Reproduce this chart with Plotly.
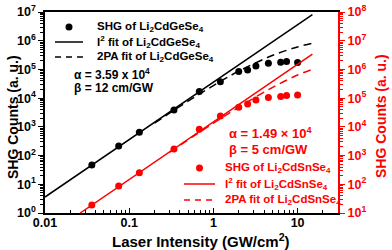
import plotly.graph_objects as go

# ---- data ----
intensity = [0.036, 0.075, 0.132, 0.34, 0.68, 1.21, 2.0, 2.55, 3.2, 4.5, 6.3, 7.4, 10.0]
shg_ge = [47, 215, 650, 3900, 17000, 37600, 84000, 96000, 132000, 164000, 178000, 187000, 173000]
shg_sn = [19, 87, 254, 1700, 8300, 24000, 48000, 63000, 87000, 105000, 113000, 123000, 129000]

fit_ge_x = [0.01, 15.0]
fit_ge_y = [3.6, 8.1e6]
pa_ge_x = [0.2, 0.5, 1.0, 2.0, 5.0, 10.0, 15.0]
pa_ge_y = [1350, 7800, 27500, 86800, 305000, 608000, 818000]

fit_sn_x = [0.0262, 15.0]
fit_sn_y = [10, 3.4e6]
pa_sn_x = [0.3, 1.0, 2.0, 5.0, 10.0, 15.0]
pa_sn_y = [1300, 13400, 48400, 233000, 637000, 1.0e6]

x_tickvals = [0.01, 0.1, 1, 10]
x_ticktext = ["0.01", "0.1", "1", "10"]
y1_exps = [0, 1, 2, 3, 4, 5, 6, 7]
y2_exps = [1, 2, 3, 4, 5, 6, 7, 8]

legend_ge = ["SHG of Li<sub>2</sub>CdGeSe<sub>4</sub>",
             "I<sup>2</sup> fit of Li<sub>2</sub>CdGeSe<sub>4</sub>",
             "2PA fit of Li<sub>2</sub>CdGeSe<sub>4</sub>"]
legend_sn = ["SHG of Li<sub>2</sub>CdSnSe<sub>4</sub>",
             "I<sup>2</sup> fit of Li<sub>2</sub>CdSnSe<sub>4</sub>",
             "2PA fit of Li<sub>2</sub>CdSnSe<sub>4</sub>"]

RED = "#ff0000"
FONT = "Liberation Sans"
NARROW = "Liberation Sans Narrow, Arial Narrow, Liberation Sans"
W, H = 392, 250
PL, PT, PR, PB = 45, 12, 338, 213   # plot area in page pixels
PW, PH = PR - PL, PB - PT
DASH = "8px,5px"


def px(xp):
    return (xp - PL) / PW


def py(yp):
    return (PB - yp) / PH


fig = go.Figure()
fig.add_trace(go.Scatter(x=intensity, y=shg_ge, mode="markers",
                         marker=dict(color="black", size=7), name=legend_ge[0]))
fig.add_trace(go.Scatter(x=fit_ge_x, y=fit_ge_y, mode="lines",
                         line=dict(color="black", width=1.5), name=legend_ge[1]))
fig.add_trace(go.Scatter(x=pa_ge_x, y=pa_ge_y, mode="lines", line_shape="spline",
                         line=dict(color="black", width=1.5, dash=DASH), name=legend_ge[2]))
fig.add_trace(go.Scatter(x=intensity, y=shg_sn, mode="markers", yaxis="y2",
                         marker=dict(color=RED, size=7), name=legend_sn[0]))
fig.add_trace(go.Scatter(x=fit_sn_x, y=fit_sn_y, mode="lines", yaxis="y2",
                         line=dict(color=RED, width=1.5), name=legend_sn[1]))
fig.add_trace(go.Scatter(x=pa_sn_x, y=pa_sn_y, mode="lines", yaxis="y2", line_shape="spline",
                         line=dict(color=RED, width=1.5, dash=DASH), name=legend_sn[2]))


def minor_vals(lo, hi):
    out = []
    for e in range(lo, hi):
        for k in range(2, 10):
            out.append(k * 10 ** e)
    return out


TICKF = dict(family=NARROW, size=12.5, weight="bold", color="black")

fig.update_layout(
    width=W, height=H,
    margin=dict(l=PL, r=W - PR, t=PT, b=H - PB),
    paper_bgcolor="white", plot_bgcolor="white",
    font=dict(family=FONT, size=11, color="black"),
    showlegend=False,
    xaxis=dict(type="log", range=[-2, 1.48], showgrid=False, zeroline=False, automargin=False,
               showline=True, linecolor="black", linewidth=1.5, mirror=True,
               ticks="inside", ticklen=5, tickwidth=1.2, tickcolor="black",
               tickvals=x_tickvals, ticktext=x_ticktext, ticklabelstandoff=-3,
               ticklabeloverflow="allow", tickfont=TICKF,
               minor=dict(tickvals=minor_vals(-2, 2), ticks="inside", ticklen=3,
                          tickcolor="black", showgrid=False)),
    yaxis=dict(type="log", range=[0, 7], showgrid=False, zeroline=False, automargin=False,
               showline=True, linecolor="black", linewidth=1.5,
               ticks="outside", ticklen=5, tickwidth=1.2, tickcolor="black",
               tickvals=[10 ** e for e in y1_exps],
               ticktext=["10<sup>%d</sup>" % e for e in y1_exps],
               ticklabeloverflow="allow", tickfont=TICKF,
               minor=dict(tickvals=minor_vals(0, 7), ticks="outside", ticklen=3,
                          tickcolor="black", showgrid=False)),
    yaxis2=dict(type="log", range=[1, 8], overlaying="y", side="right", automargin=False,
                showgrid=False, zeroline=False,
                showline=True, linecolor=RED, linewidth=2,
                ticks="outside", ticklen=5, tickwidth=1.2, tickcolor=RED,
                tickvals=[10 ** e for e in y2_exps],
                ticktext=["10<sup>%d</sup>" % e for e in y2_exps],
                ticklabeloverflow="allow",
                tickfont=dict(family=NARROW, size=12.5, weight="bold", color=RED),
                minor=dict(tickvals=minor_vals(1, 8), ticks="outside", ticklen=3,
                           tickcolor=RED, showgrid=False)),
)

# axis titles
fig.add_annotation(xref="paper", yref="paper", x=px(13), y=py(117), textangle=-90,
                   xanchor="center", yanchor="middle",
                   showarrow=False, text="SHG Counts (a. u.)",
                   font=dict(size=14, weight="bold", color="black"))
fig.add_annotation(xref="paper", yref="paper", x=px(381), y=py(116), textangle=-90,
                   xanchor="center", yanchor="middle",
                   showarrow=False, text="SHG Counts (a. u.)",
                   font=dict(size=14, weight="bold", color=RED))
fig.add_annotation(xref="paper", yref="paper", x=px(201), y=py(240),
                   xanchor="center", yanchor="middle",
                   showarrow=False, text="Laser Intensity (GW/cm<sup>2</sup>)",
                   font=dict(size=15, weight="bold", color="black"))


# manual legends
def add_legend(rows, color, xm0, xm1, xt, ys):
    xc = (xm0 + xm1) / 2
    r = 3.5
    fig.add_shape(type="circle", xref="paper", yref="paper",
                  x0=px(xc - r), x1=px(xc + r), y0=py(ys[0] + r), y1=py(ys[0] - r),
                  fillcolor=color, line=dict(color=color, width=0))
    fig.add_shape(type="line", xref="paper", yref="paper",
                  x0=px(xm0), x1=px(xm1), y0=py(ys[1]), y1=py(ys[1]),
                  line=dict(color=color, width=1.5))
    fig.add_shape(type="line", xref="paper", yref="paper",
                  x0=px(xm0), x1=px(xm1), y0=py(ys[2]), y1=py(ys[2]),
                  line=dict(color=color, width=1.5, dash="6px,5px"))
    for txt, yy in zip(rows, ys):
        fig.add_annotation(xref="paper", yref="paper", x=px(xt), y=py(yy),
                           xanchor="left", yanchor="middle", showarrow=False, text=txt,
                           font=dict(family=NARROW, size=11.5, weight="bold", color=color))


add_legend(legend_ge, "black", 55, 83, 95, [27, 42, 57])
add_legend(legend_sn, RED, 184, 215, 223, [168, 184, 200])

fig.add_annotation(xref="paper", yref="paper", x=px(72), y=py(74),
                   xanchor="left", yanchor="middle", showarrow=False,
                   text="α = 3.59 x 10<sup>4</sup>",
                   font=dict(family=NARROW, size=12, weight="bold", color="black"))
fig.add_annotation(xref="paper", yref="paper", x=px(72), y=py(88),
                   xanchor="left", yanchor="middle", showarrow=False,
                   text="β = 12 cm/GW",
                   font=dict(family=NARROW, size=12, weight="bold", color="black"))
fig.add_annotation(xref="paper", yref="paper", x=px(270), y=py(133),
                   xanchor="center", yanchor="middle", showarrow=False,
                   text="α = 1.49 × 10<sup>4</sup>",
                   font=dict(family=NARROW, size=13, weight="bold", color=RED))
fig.add_annotation(xref="paper", yref="paper", x=px(268), y=py(149),
                   xanchor="center", yanchor="middle", showarrow=False,
                   text="β = 5 cm/GW",
                   font=dict(family=NARROW, size=13, weight="bold", color=RED))

fig.write_html("out.html", config={"displayModeBar": False},
               post_script="document.body.style.margin='0';document.body.style.overflow='hidden';")
